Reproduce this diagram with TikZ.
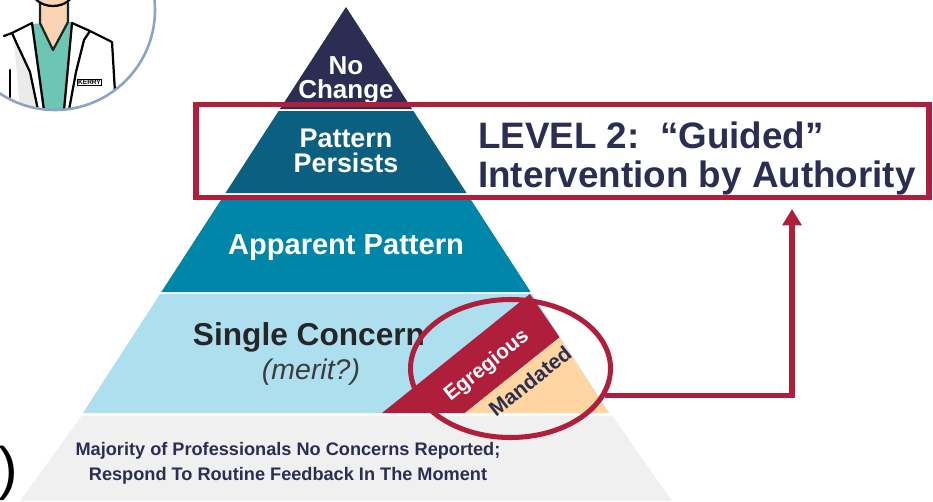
\documentclass[tikz,border=0pt]{standalone}
\usepackage{fontspec}
\setmainfont{Liberation Sans}
\usetikzlibrary{
  arrows.meta,
  shapes.geometric
}
\definecolor{navy}{HTML}{2B2D52}
\definecolor{deepteal}{HTML}{0B5F80}
\definecolor{midteal}{HTML}{0086A9}
\definecolor{sky}{HTML}{AEDFEF}
\definecolor{paleband}{HTML}{F0F0F0}
\definecolor{crimson}{HTML}{AF1F3B}
\definecolor{peach}{HTML}{FFD6A2}
\definecolor{inkgray}{HTML}{262626}
\definecolor{ringblue}{HTML}{8CA3C6}
\definecolor{skin}{HTML}{F9D3B4}
\definecolor{scrub}{HTML}{6DC6B4}
\newcommand{\fsz}[2]{\fontsize{#1pt}{#2pt}\selectfont}
\tikzset{
  tierlabel/.style={text=white,align=center,inner sep=0pt},
  darklabel/.style={text=navy,inner sep=0pt},
  redline/.style={draw=crimson,line width=4.6pt},
  inkline/.style={draw=black,line width=1.9pt,line join=round,line cap=round}
}

\begin{document}
\begin{tikzpicture}[x=0.03cm,y=-0.03cm]
  \useasboundingbox (0,0) rectangle (933,501);
  \clip (0,0) rectangle (933,501);

  % doctor in the corner
  \begin{scope}
    \clip (55,10) circle (3cm);
    \fill[white] (55,10) circle (3cm);
    \fill[black!8] (14,40) -- (30,72) -- (38,110) -- (20,110) -- cycle;
    \fill[scrub] (31,24) -- (73,22) -- (65,112) -- (43,112) -- cycle;
    \fill[skin] (40,-4) -- (68,-4) -- (68,23) -- (53,50) -- (40,23) -- cycle;
    \draw[inkline,draw=black!80!scrub] (40,3) -- (40,23) -- (53,50) -- (68,22) -- (68,3);
    \filldraw[fill=skin,inkline] (53,-10) ellipse [x radius=0.63cm,y radius=0.48cm];
    \draw[inkline] (4,36) -- (12,33) -- (32,23) -- (44,110);
    \draw[inkline] (12,33) -- (16,42) -- (30,72) -- (38,110);
    \draw[inkline] (10,70) -- (10,97);
    \draw[inkline] (72,23) -- (90,31) -- (112,42) -- (115,92);
    \draw[inkline] (72,23) -- (64,110);
    \draw[inkline] (90,31) -- (84,40) -- (76,72) -- (69,110);
    \node[draw,line width=0.9pt,font=\bfseries\fsz{5.6}{6},inner sep=0.8pt] (badge) at (89.5,82.5) {KERRY};
  \end{scope}
  \draw[ringblue,line width=2.2pt] (55,10) circle (3cm);

  \foreach \ya/\yb/\col in {7/109/navy,111/193/deepteal,195/292/midteal,294/413/sky}
    \fill[\col] ({346-0.648*(\ya-7)},\ya) -- ({346+0.648*(\ya-7)},\ya)
      -- ({346+0.648*(\yb-7)},\yb) -- ({346-0.648*(\yb-7)},\yb) -- cycle;
  \fill[paleband] (82,415.5) -- (612,415.5) -- (672,501) -- (20,501) -- cycle;
  \fill[crimson] (382,413) -- (529.9,294) -- (559.6,337.4) -- (465,413) -- cycle;
  \fill[peach] (465,413) -- (559.6,337.4) -- (609,413) -- cycle;

  \node[tierlabel,font=\bfseries\fsz{22.2}{20.5}] (nochange) at (346,80) {No\\Change};
  \node[tierlabel,font=\bfseries\fsz{23}{21.3}] (persists) at (346,151) {Pattern\\Persists};
  \node[tierlabel,font=\bfseries\fsz{24.8}{28}] (apparent) at (346,247.5) {Apparent Pattern};
  \node[tierlabel,text=inkgray,font=\bfseries\fsz{27}{30}] (single) at (309,337) {Single Concern};
  \node[tierlabel,text=inkgray!90,font=\itshape\fsz{24.3}{28}] (merit) at (311,372.5) {(merit?)};
  \node[tierlabel,rotate=38.5,font=\bfseries\fsz{17.7}{20}] (egregious) at (487,366) {Egregious};
  \node[darklabel,rotate=38.5,font=\bfseries\fsz{18}{20}] (mandated) at (530,381) {Mandated};
  \node[darklabel,align=center,font=\bfseries\fsz{15.5}{21.3}] (majority) at (288,463)
    {Majority of Professionals No Concerns Reported;\\Respond To Routine Feedback In The Moment};
  \node[darklabel,align=left,anchor=west,font=\bfseries\fsz{31.4}{33.3}] (level) at (478,158.3)
    {LEVEL 2:~~“Guided”\\Intervention by Authority};
  \node[inner sep=0pt,font=\fsz{50}{55}] (paren) at (8,473) {)};

  \draw[redline] (196,104.5) rectangle (929,197.5);
  \node[ellipse,draw=crimson,line width=4.3pt,minimum width=6cm,minimum height=4.14cm,inner sep=0pt]
    (ring) at (510.5,368.5) {};
  \coordinate (tip) at (792,209);
  \draw[redline,-{Triangle[width=16pt,length=14pt]}] (ring.-16) -| (tip);
\end{tikzpicture}
\end{document}
